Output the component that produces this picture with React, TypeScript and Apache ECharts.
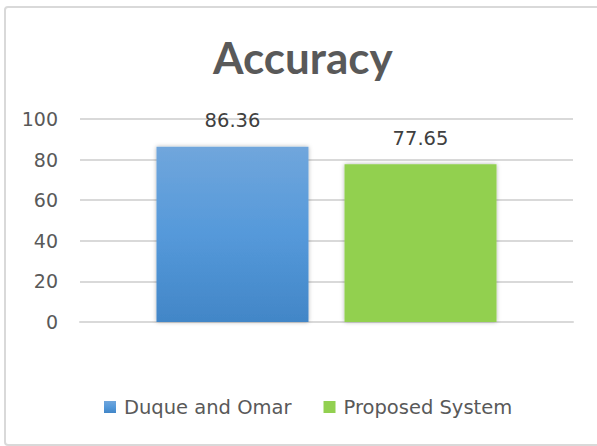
import React, { useEffect, useRef } from "react";
import * as echarts from "echarts";

const categories = [""];
const seriesNames = ["Duque and Omar", "Proposed System"];
const seriesValues = [86.36, 77.65];
const yTicks = { min: 0, max: 100, interval: 20 };

export default function App() {
  const ref = useRef<HTMLDivElement>(null);
  useEffect(() => {
    document.body.style.margin = "0";
    const chart = echarts.init(ref.current!, null, { renderer: "svg" });
    const blue = new echarts.graphic.LinearGradient(0, 0, 0, 1, [
      { offset: 0, color: "#70a6dc" },
      { offset: 0.5, color: "#5599da" },
      { offset: 1, color: "#4286c7" },
    ]);
    const colors = [blue, "#92d050"];
    chart.setOption({
      animation: false,
      backgroundColor: "#ffffff",
      title: {
        text: "Accuracy",
        left: 208,
        top: 30,
        textStyle: { fontFamily: "Lato", fontWeight: "bold", fontSize: 44, color: "#595959" },
      },
      graphic: [
        {
          type: "rect",
          shape: { x: 5, y: 7, width: 600, height: 438, r: 3 },
          style: { fill: "none", stroke: "#d9d9d9", lineWidth: 2 },
          silent: true,
        },
      ],
      legend: {
        left: 99,
        top: 392,
        itemWidth: 12,
        itemHeight: 12,
        itemGap: 32,
        icon: "rect",
        textStyle: { fontFamily: "DejaVu Sans", fontSize: 19.5, color: "#595959", padding: [0, 0, 0, 3] },
        data: seriesNames,
      },
      grid: { left: 80, right: 24, top: 119, bottom: 124 },
      xAxis: {
        type: "category",
        data: categories,
        axisLine: { lineStyle: { color: "#d9d9d9", width: 2 } },
        axisTick: { show: false },
        axisLabel: { show: false },
      },
      yAxis: {
        type: "value",
        min: yTicks.min,
        max: yTicks.max,
        interval: yTicks.interval,
        axisLine: { show: false },
        axisTick: { show: false },
        axisLabel: { fontFamily: "DejaVu Sans", fontSize: 19, color: "#595959", margin: 22 },
        splitLine: { lineStyle: { color: "#d9d9d9", width: 2 } },
      },
      series: seriesNames.map((name, i) => ({
        name,
        type: "bar",
        data: [seriesValues[i]],
        barWidth: 152,
        barGap: "23.7%",
        itemStyle: {
          color: colors[i],
          shadowBlur: 4,
          shadowColor: "rgba(0,0,0,0.3)",
        },
        label: {
          show: true,
          position: "top",
          distance: 16,
          fontFamily: "DejaVu Sans",
          fontSize: 19.5,
          color: "#404040",
          formatter: (p: any) => p.value.toFixed(2),
        },
      })),
    });
    return () => chart.dispose();
  }, []);
  return <div ref={ref} style={{ width: 597, height: 446 }} />;
}
